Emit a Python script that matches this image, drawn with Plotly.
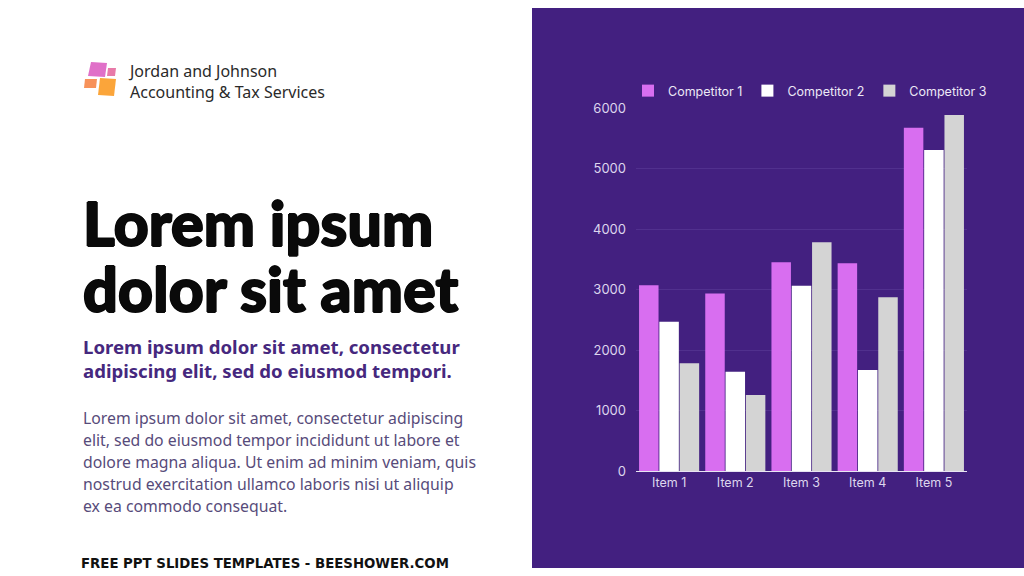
import plotly.graph_objects as go

W, H = 1024, 576

items = ["Item 1", "Item 2", "Item 3", "Item 4", "Item 5"]
competitor_1 = [3070, 2935, 3450, 3435, 5675]
competitor_2 = [2465, 1640, 3060, 1670, 5305]
competitor_3 = [1780, 1255, 3780, 2870, 5885]
series_names = ["Competitor 1", "Competitor 2", "Competitor 3"]
series_colors = ["#d86ef0", "#ffffff", "#d4d4d4"]
y_ticks = [0, 1000, 2000, 3000, 4000, 5000, 6000]

company = ["Jordan and Johnson", "Accounting & Tax Services"]
heading = ["Lorem ipsum", "dolor sit amet"]
subheading = ["Lorem ipsum dolor sit amet, consectetur",
              "adipiscing elit, sed do eiusmod tempori."]
body = ["Lorem ipsum dolor sit amet, consectetur adipiscing",
        "elit, sed do eiusmod tempor incididunt ut labore et",
        "dolore magna aliqua. Ut enim ad minim veniam, quis",
        "nostrud exercitation ullamco laboris nisi ut aliquip",
        "ex ea commodo consequat."]
footer = "FREE PPT SLIDES TEMPLATES - BEESHOWER.COM"

PURPLE = "#432080"

# the page shows the figure 8px down and 560px tall, so map slide pixels onto that
TOP, DRAWN_H = 8, 560


def px(x):
    return x / W


def py(y):
    return 1 - (y - TOP) / DRAWN_H


fig = go.Figure()
for name, vals, col in zip(series_names, [competitor_1, competitor_2, competitor_3], series_colors):
    fig.add_trace(go.Bar(x=items, y=vals, name=name, marker=dict(color=col, line=dict(width=0))))

shapes = [
    dict(type="rect", xref="paper", yref="paper", x0=px(532), x1=1, y0=0, y1=1,
         fillcolor=PURPLE, line=dict(width=0), layer="below"),
    # logo
    dict(type="path", xref="paper", yref="paper",
         path=f"M {px(91)},{py(62)} L {px(107)},{py(63)} L {px(105)},{py(77)} L {px(88)},{py(76)} Z",
         fillcolor="#e070c8", line=dict(width=0)),
    dict(type="path", xref="paper", yref="paper",
         path=f"M {px(108)},{py(68)} L {px(116)},{py(68)} L {px(115)},{py(76)} L {px(107)},{py(76)} Z",
         fillcolor="#e87aa8", line=dict(width=0)),
    dict(type="path", xref="paper", yref="paper",
         path=f"M {px(85)},{py(79)} L {px(97)},{py(79)} L {px(96)},{py(88)} L {px(84)},{py(88)} Z",
         fillcolor="#f7925a", line=dict(width=0)),
    dict(type="path", xref="paper", yref="paper",
         path=f"M {px(100)},{py(78)} L {px(116)},{py(79)} L {px(114)},{py(96)} L {px(98)},{py(95)} Z",
         fillcolor="#fba53a", line=dict(width=0)),
]

ann = []


def text(x, y, s, size, color, weight="normal", family="Noto Sans", shadow="none"):
    ann.append(dict(x=px(x), y=py(y), xref="paper", yref="paper", text=s, showarrow=False,
                    xanchor="left", yanchor="middle", align="left",
                    font=dict(size=size, color=color, family=family, weight=weight, shadow=shadow)))


heavy = "0.9px 0 0 #0a0a0a, -0.9px 0 0 #0a0a0a, 0 0.9px 0 #0a0a0a, 0 -0.9px 0 #0a0a0a"
text(126, 81.5, "<br>".join(company), 16, "#2a2a2a")
for i, s in enumerate(heading):
    text(81, 222 + i * 66, s, 61, "#0a0a0a", weight=900, family="Lato", shadow=heavy)
text(81, 358.5, "<br>".join(subheading), 18.6, "#46287e", weight="bold")
for i, s in enumerate(body):
    text(81, 418 + i * 22, s, 15.8, "#574b7a")
text(79, 563, footer, 13.3, "#111111", weight="bold", family="DejaVu Sans")

fig.update_layout(
    width=W, height=H,
    margin=dict(l=0, r=0, t=0, b=0),
    paper_bgcolor="white",
    plot_bgcolor=PURPLE,
    barmode="group", bargap=0.08, bargroupgap=0.04,
    xaxis=dict(domain=[px(636), px(967)], showgrid=False, showline=True, linecolor="#e8e4f2",
               linewidth=1, ticks="", tickfont=dict(size=12.5, color="#ddd6ee", family="Inter")),
    yaxis=dict(domain=[py(471), py(108)], range=[0, 6000], tickvals=y_ticks,
               gridcolor="#51308e", gridwidth=1, zeroline=False, showline=False,
               ticklabelstandoff=9,
               tickfont=dict(size=13, color="#ddd6ee", family="Inter")),
    legend=dict(orientation="h", x=px(628), y=py(91), xanchor="left", yanchor="middle",
                font=dict(size=12.5, color="#ece8f6", family="Inter"),
                bgcolor="rgba(0,0,0,0)", itemwidth=30, traceorder="normal"),
    shapes=shapes,
    annotations=ann,
    font=dict(family="Inter"),
)

post = """
document.documentElement.style.margin='0';
document.body.style.margin='0';
document.body.style.padding='0';
document.body.style.overflow='hidden';
"""

fig.write_html("out.html", config={"displayModeBar": False}, post_script=post)
